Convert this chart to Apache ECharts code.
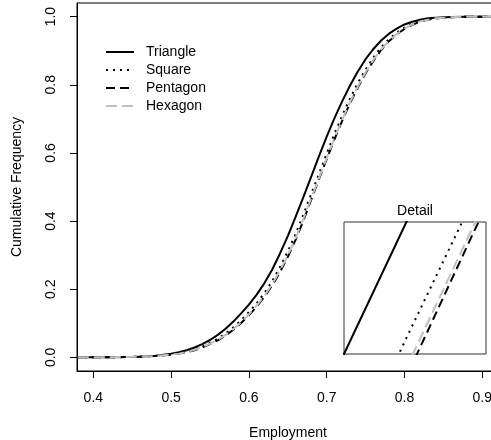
<!DOCTYPE html>
<html>
<head>
<meta charset="utf-8">
<script src="https://cdn.jsdelivr.net/npm/echarts@6/dist/echarts.min.js"></script>
<style>
html, body { margin: 0; padding: 0; background: #fff; }
#chart { width: 491px; height: 440px; }
</style>
</head>
<body>
<div id="chart"></div>
<script>
// employment values (x) shared by the four curves
var xs = [0.38, 0.40, 0.42, 0.44, 0.46, 0.48,
  0.50, 0.51, 0.52, 0.53, 0.54, 0.55, 0.56, 0.57, 0.58, 0.59,
  0.60, 0.61, 0.62, 0.63, 0.64, 0.65, 0.66, 0.67, 0.68, 0.69,
  0.70, 0.71, 0.72, 0.73, 0.74, 0.75, 0.76, 0.77, 0.78, 0.79,
  0.80, 0.81, 0.82, 0.83, 0.84, 0.86, 0.88, 0.90, 0.92]

var triangle = [0, 0, 0, 0.001, 0.002, 0.005,
  0.011, 0.015, 0.021, 0.029, 0.039, 0.051, 0.066, 0.084, 0.105, 0.129,
  0.155, 0.184, 0.218, 0.258, 0.305, 0.356, 0.412, 0.470, 0.530, 0.590,
  0.648, 0.702, 0.752, 0.798, 0.839, 0.875, 0.905, 0.930, 0.950, 0.965,
  0.977, 0.985, 0.991, 0.995, 0.997, 0.999, 1, 1, 1]

var square = [0, 0, 0, 0.001, 0.002, 0.004,
  0.009, 0.012, 0.017, 0.024, 0.032, 0.043, 0.055, 0.070, 0.088, 0.109,
  0.133, 0.159, 0.189, 0.224, 0.265, 0.311, 0.362, 0.419, 0.479, 0.538,
  0.598, 0.656, 0.710, 0.760, 0.805, 0.845, 0.880, 0.910, 0.934, 0.953,
  0.968, 0.979, 0.987, 0.992, 0.995, 0.998, 1, 1, 1]

var pentagon = [0, 0, 0, 0.001, 0.002, 0.004,
  0.008, 0.011, 0.015, 0.021, 0.029, 0.039, 0.050, 0.064, 0.081, 0.101,
  0.123, 0.149, 0.178, 0.211, 0.250, 0.295, 0.345, 0.401, 0.462, 0.523,
  0.582, 0.640, 0.695, 0.746, 0.792, 0.834, 0.870, 0.902, 0.928, 0.948,
  0.964, 0.976, 0.985, 0.991, 0.995, 0.998, 1, 1, 1]

var hexagon = [0, 0, 0, 0.001, 0.002, 0.004,
  0.008, 0.011, 0.016, 0.022, 0.030, 0.040, 0.052, 0.066, 0.083, 0.103,
  0.126, 0.152, 0.181, 0.215, 0.255, 0.300, 0.350, 0.406, 0.466, 0.526,
  0.585, 0.643, 0.698, 0.749, 0.795, 0.837, 0.873, 0.904, 0.929, 0.949,
  0.965, 0.977, 0.986, 0.991, 0.995, 0.998, 1, 1, 1]

var xTicks = [0.4, 0.5, 0.6, 0.7, 0.8, 0.9]
var yTicks = [0, 0.2, 0.4, 0.6, 0.8, 1.0]

var font = 'Liberation Sans, Arial, sans-serif'

// line styles for each shape
var styles = [
  { name: 'Triangle', data: triangle, color: '#000', type: 'solid', width: 2 },
  { name: 'Square', data: square, color: '#000', type: [2, 5], width: 2 },
  { name: 'Pentagon', data: pentagon, color: '#000', type: [9, 5], width: 2 },
  { name: 'Hexagon', data: hexagon, color: '#c0c0c0', type: [11, 5], width: 2 }
]

function pairs (ys) {
  return xs.map(function (x, i) { return [x, ys[i]] })
}

var series = []
styles.forEach(function (s) {
  series.push({
    name: s.name, type: 'line', xAxisIndex: 0, yAxisIndex: 0,
    data: pairs(s.data), showSymbol: false, symbol: 'none', animation: false,
    lineStyle: { color: s.color, type: s.type, width: s.width },
    itemStyle: { color: s.color }
  })
})
// detail inset: same data, zoomed scales
styles.forEach(function (s) {
  series.push({
    name: s.name + ' detail', type: 'line', xAxisIndex: 1, yAxisIndex: 1,
    data: pairs(s.data), showSymbol: false, symbol: 'none', animation: false,
    clip: true, z: 3,
    lineStyle: { color: s.color, type: s.type, width: s.width }
  })
})

var chart = echarts.init(document.getElementById('chart'))
chart.setOption({
  backgroundColor: '#fff',
  textStyle: { fontFamily: font },
  legend: {
    data: ['Triangle', 'Square', 'Pentagon', 'Hexagon'],
    orient: 'vertical',
    left: 105,
    top: 45,
    padding: 0,
    itemWidth: 28,
    itemHeight: 14,
    itemGap: 4,
    itemStyle: { opacity: 0 },
    textStyle: { fontFamily: font, fontSize: 14, color: '#000', padding: [0, 0, 0, 7] }
  },
  grid: [
    { left: 77, top: 3, right: -8, bottom: 69, outerBoundsMode: 'none', containLabel: false,
      show: true, borderColor: '#000', borderWidth: 1, backgroundColor: 'transparent' },
    { left: 344, top: 222, width: 142, height: 132, outerBoundsMode: 'none', containLabel: false,
      show: true, borderColor: '#333', borderWidth: 1, backgroundColor: '#fff' }
  ],
  xAxis: [
    {
      gridIndex: 0, type: 'value', min: 0.379, max: 0.9215,
      name: 'Employment', nameLocation: 'middle', nameGap: 55,
      nameTextStyle: { fontFamily: font, fontSize: 14, color: '#000' },
      axisLine: { show: true, onZero: false, lineStyle: { color: '#000', width: 1 } },
      axisTick: { show: true, length: 7, inside: false, customValues: xTicks, lineStyle: { color: '#000' } },
      axisLabel: { customValues: xTicks, margin: 20, fontSize: 14, color: '#000', fontFamily: font,
        formatter: function (v) { return v.toFixed(1) } },
      splitLine: { show: false }
    },
    {
      gridIndex: 1, type: 'value', min: 0.670, max: 0.692, position: 'top',
      name: 'Detail', nameLocation: 'middle', nameGap: 4,
      nameTextStyle: { fontFamily: font, fontSize: 14, color: '#000' },
      axisLine: { show: false, onZero: false }, axisTick: { show: false }, axisLabel: { show: false },
      splitLine: { show: false }
    }
  ],
  yAxis: [
    {
      gridIndex: 0, type: 'value', min: -0.04, max: 1.04,
      name: 'Cumulative Frequency', nameLocation: 'middle', nameGap: 53, nameRotate: 90,
      nameTextStyle: { fontFamily: font, fontSize: 14, color: '#000' },
      axisLine: { show: true, onZero: false, lineStyle: { color: '#000', width: 1 } },
      axisTick: { show: true, length: 7, inside: false, customValues: yTicks, lineStyle: { color: '#000' } },
      axisLabel: { customValues: yTicks, rotate: 90, margin: 19, fontSize: 14, color: '#000', fontFamily: font,
        formatter: function (v) { return v.toFixed(1) } },
      splitLine: { show: false }
    },
    {
      gridIndex: 1, type: 'value', min: 0.470, max: 0.528, show: false,
      splitLine: { show: false }
    }
  ],
  series: series
})
</script>
</body>
</html>
